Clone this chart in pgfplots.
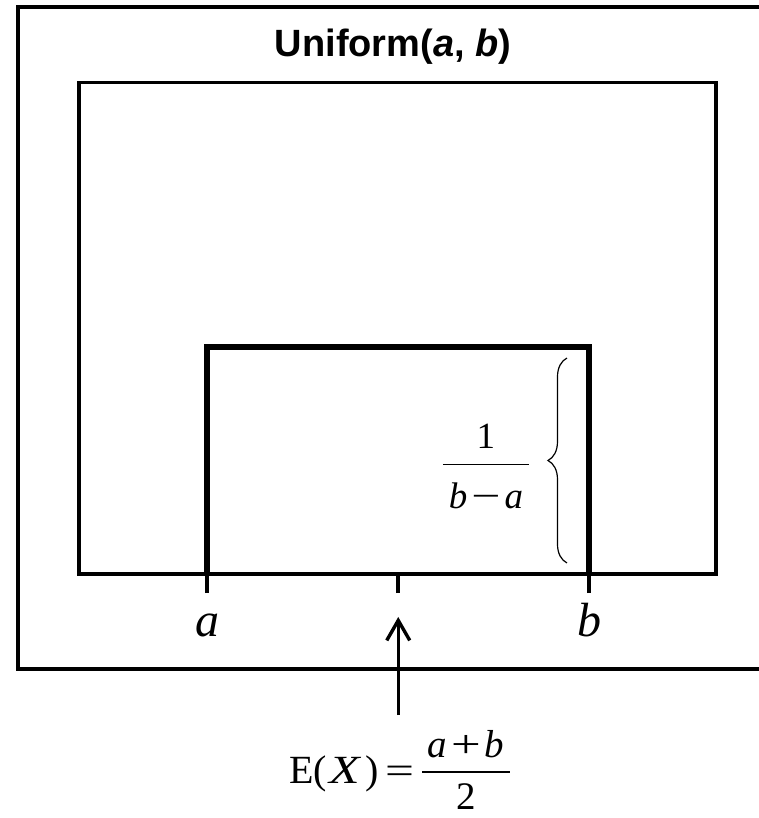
\documentclass[border=0pt]{standalone}
\usepackage{pgfplots}
\pgfplotsset{compat=1.18}
\usepackage{graphicx}
\usepackage{fontspec}
\setmainfont{Liberation Serif}
\setsansfont{Liberation Sans}
\usetikzlibrary{decorations.pathreplacing,arrows.meta}
\begin{document}
\begin{tikzpicture}
\useasboundingbox (-39.5pt,-122pt) rectangle (340pt,287pt);
% outer frame
\draw[line width=2pt] (350pt,283.5pt) -- (-30.5pt,283.5pt) -- (-30.5pt,-47.3pt) -- (350pt,-47.3pt);
\begin{axis}[
  at={(0pt,0pt)}, anchor=south west,
  scale only axis, width=318.5pt, height=245.75pt,
  xmin=-0.3368, xmax=1.3329, ymin=0, ymax=2.1652,
  axis line style={line width=1.6pt},
  xtick={0,0.5,1}, xticklabels={\textit{a},,\textit{b}},
  ytick=\empty, xtick pos=left, tick align=outside,
  major tick length=9.5pt,
  every tick/.style={black, line width=2pt},
  xticklabel style={font=\fontsize{24}{24}\selectfont, anchor=base, yshift=-21.5pt},
  title={Uniform(\textit{a}, \textit{b})},
  title style={font=\sffamily\bfseries\fontsize{19}{20}\selectfont, at={(0.5,1)}, anchor=base, yshift=7pt, xshift=-2.25pt},
]
\addplot[black, line width=3pt, line join=miter] coordinates {(0,-0.05) (0,1) (1,1) (1,-0.05)};
\draw[decorate, decoration={brace, amplitude=9.5pt}, line width=0.6pt] (axis cs:0.9423,0.0485) -- (axis cs:0.9423,0.9515);
\node[inner sep=0pt, anchor=base, font=\fontsize{18.5}{18.5}\selectfont] at (axis cs:0.730,0.4833)
  {\makebox[0pt]{\raisebox{8pt}{1}}\makebox[0pt]{\rule[-0.3pt]{43pt}{0.6pt}}\makebox[0pt]{\raisebox{-22pt}{\textit{b}\kern2pt\scalebox{1.4}[1]{−}\kern2pt\textit{a}}}};
\coordinate (m0) at (axis cs:0.5,0);
\end{axis}
\draw[line width=1.7pt, -{Straight Barb[length=10pt,width=11.5pt]}] ([yshift=-70.5pt]m0) -- ([yshift=-21.5pt]m0);
\node[anchor=base west, inner sep=0pt, font=\fontsize{20}{20}\selectfont] at (105pt,-104.5pt) {E(\kern1pt\scalebox{1.25}[1]{\textit{X}}\kern2pt)};
\node[anchor=base, inner sep=0pt, font=\fontsize{19}{19}\selectfont] at (160.5pt,-104.5pt) {\scalebox{1.35}[1]{=}};
\node[inner sep=0pt, anchor=base, font=\fontsize{19.5}{19.5}\selectfont] at (193.5pt,-99pt)
  {\makebox[0pt]{\raisebox{7.5pt}{\textit{a}\kern2pt\scalebox{1.35}[1]{+}\kern2pt\textit{b}}}\makebox[0pt]{\rule[-0.35pt]{44pt}{0.7pt}}};
\node[inner sep=0pt, anchor=base, font=\fontsize{19.5}{19.5}\selectfont] at (193.5pt,-117.5pt) {2};
\end{tikzpicture}
\end{document}
